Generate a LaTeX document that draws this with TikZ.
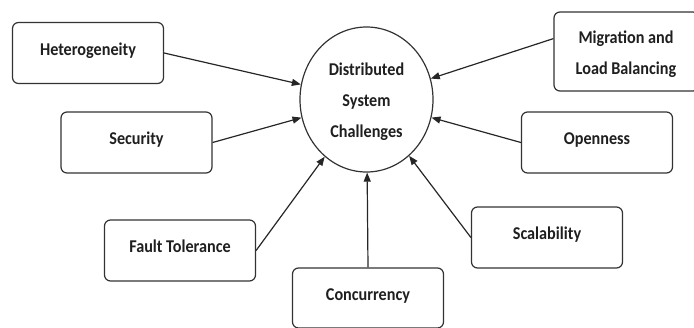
\documentclass[tikz,border=0pt]{standalone}
\usepackage{fontspec}
\setmainfont{Carlito}[FakeStretch=0.9]
\usetikzlibrary{arrows.meta,shapes.geometric}
\begin{document}
\begin{tikzpicture}[x=1pt,y=-1pt,
  every node/.style={font=\bfseries\fontsize{18}{31}\selectfont, text=black!88},
  box/.style={draw=black!80, line width=1.2pt, rounded corners=6pt, inner sep=0pt,
    minimum width=151pt, minimum height=61pt},
  lbl/.style={text height=13pt, text depth=9pt},
  hub/.style={draw=black!80, line width=1.2pt, ellipse, inner sep=0pt, minimum width=133pt, minimum height=145pt},
  conn/.style={draw=black!85, line width=1.2pt, -{Triangle[length=9pt,width=7pt]}}]
\useasboundingbox (0,0) rectangle (694,327);
\node[hub] (circ) at (366.5,99.5) {};
\node[align=center] (circtext) at (366.5,102) {Distributed\\System\\Challenges};
\node[box,lbl] (het) at (88,53) {Heterogeneity};
\node[box,lbl] (sec) at (136.5,142.5) {Security};
\node[box,lbl] (ft) at (180,250.5) {Fault Tolerance};
\node[box,lbl, minimum height=60pt] (con) at (368,298) {Concurrency};
\node[box,lbl] (sca) at (547,237.5) {Scalability};
\node[box,lbl] (ope) at (597,142.5) {Openness};
\node[box, minimum width=145pt, minimum height=79pt] (mig) at (626.5,51.5) {};
\node[align=center] (migtext) at (626,54) {Migration and\\Load Balancing};
\draw[conn] (het.east) -- (circ);
\draw[conn] (sec.east) -- (circ);
\draw[conn] (ft.east) -- (circ);
\draw[conn] (con.north) -- (circ);
\draw[conn] (sca.west) -- (circ);
\draw[conn] (ope.west) -- (circ);
\draw[conn] (mig.170) -- (circ);
\end{tikzpicture}
\end{document}
